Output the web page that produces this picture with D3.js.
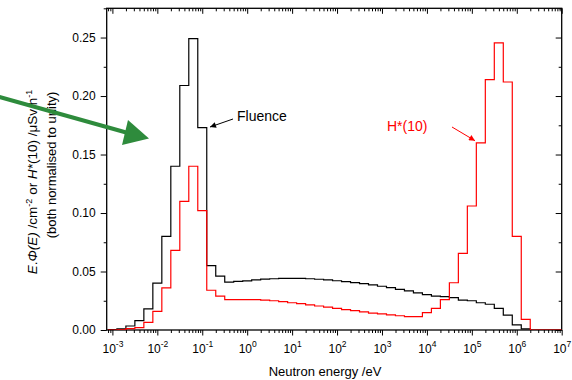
<!DOCTYPE html>
<html>
<head>
<meta charset="utf-8">
<script src="https://cdn.jsdelivr.net/npm/d3@7"></script>
<style>
body { margin: 0; background: #fff; }
svg { font-family: "Liberation Sans", Arial, sans-serif; }
</style>
</head>
<body>
<div id="plot"></div>
<script>
// bin edges as log10(E / eV), 5 bins per decade
let binEdges = [-3.1, -2.9, -2.7, -2.5, -2.3, -2.1, -1.9, -1.7, -1.5, -1.3,
  -1.1, -0.9, -0.7, -0.5, -0.3, -0.1, 0.1, 0.3, 0.5, 0.7,
  0.9, 1.1, 1.3, 1.5, 1.7, 1.9, 2.1, 2.3, 2.5, 2.7,
  2.9, 3.1, 3.3, 3.5, 3.7, 3.9, 4.1, 4.3, 4.5, 4.7,
  4.9, 5.1, 5.3, 5.5, 5.7, 5.9, 6.1, 6.3, 6.5, 6.7,
  6.9, 7.1];

let fluence = [0.0003, 0.0009, 0.0034, 0.008, 0.018, 0.040, 0.080, 0.140, 0.209, 0.249,
  0.173, 0.055, 0.046, 0.041, 0.0415, 0.042, 0.0428, 0.0435, 0.0438, 0.0442,
  0.0442, 0.0441, 0.0438, 0.0434, 0.0428, 0.0421, 0.0414, 0.0405, 0.0396, 0.0385,
  0.0374, 0.0362, 0.0348, 0.0334, 0.0318, 0.0302, 0.0290, 0.0285, 0.0276, 0.0256,
  0.025, 0.0233, 0.022, 0.0185, 0.0128, 0.0043, 0.001, 0, 0, 0,
  0];

let hstar = [0, 0.0002, 0.0011, 0.002, 0.0066, 0.016, 0.036, 0.068, 0.110, 0.140,
  0.102, 0.034, 0.029, 0.026, 0.026, 0.026, 0.026, 0.0255, 0.025, 0.0243,
  0.0233, 0.0225, 0.0215, 0.0205, 0.0195, 0.0185, 0.0175, 0.0165, 0.0155, 0.0145,
  0.0137, 0.013, 0.0122, 0.0114, 0.0114, 0.0148, 0.0185, 0.026, 0.0404, 0.0655,
  0.106, 0.160, 0.214, 0.2455, 0.212, 0.080, 0.0091, 0, 0, 0,
  0];

let decades = [-3, -2, -1, 0, 1, 2, 3, 4, 5, 6, 7];
let yTicks = [0, 0.05, 0.10, 0.15, 0.20, 0.25];
let yMinor = [0.025, 0.075, 0.125, 0.175, 0.225, 0.275];

let svgWidth = 572, svgHeight = 380;
let margin = { top: 8.3, right: 10.3, bottom: 50, left: 106.7 };
let width = svgWidth - margin.left - margin.right;
let height = svgHeight - margin.top - margin.bottom;

let x = d3.scaleLog().domain([Math.pow(10, -3.127), 1e7]).range([0, width]);
let y = d3.scaleLinear().domain([0, 0.275]).range([height, 0]);

let xMinor = [];
for (let d = -4; d < 7; d++) {
  for (let m = 2; m <= 9; m++) {
    let v = m * Math.pow(10, d);
    if (v >= x.domain()[0] && v <= 1e7) xMinor.push(v);
  }
}
let xMajor = decades.map(d => Math.pow(10, d));

let svg = d3.select('#plot').append('svg')
  .attr('width', svgWidth).attr('height', svgHeight);
let chart = svg.append('g')
  .attr('transform', `translate(${margin.left},${margin.top})`);

chart.append('clipPath').attr('id', 'clip')
  .append('rect').attr('width', width).attr('height', height);

function styleAxis(g) {
  g.selectAll('.domain').remove();
  g.selectAll('line').attr('stroke', '#000').attr('stroke-width', 1);
}

// bottom axis
chart.append('g').attr('transform', `translate(0,${height})`)
  .call(d3.axisBottom(x).tickValues(xMinor).tickSize(3).tickFormat(''))
  .call(styleAxis);
let bx = chart.append('g').attr('transform', `translate(0,${height})`)
  .call(d3.axisBottom(x).tickValues(xMajor).tickSize(5.5).tickFormat(''))
  .call(styleAxis);
bx.selectAll('.tick').append('text')
  .attr('y', 23).attr('fill', '#000').attr('text-anchor', 'middle')
  .style('font-size', '12px')
  .each(function (d) {
    let t = d3.select(this);
    let e = Math.round(Math.log10(d));
    t.append('tspan').text('10');
    t.append('tspan').attr('dy', -6).style('font-size', '8.5px').text(String(e));
  });

// top axis (inward)
chart.append('g')
  .call(d3.axisTop(x).tickValues(xMinor).tickSize(-3).tickFormat(''))
  .call(styleAxis);
chart.append('g')
  .call(d3.axisTop(x).tickValues(xMajor).tickSize(-5.5).tickFormat(''))
  .call(styleAxis);

// left axis
chart.append('g')
  .call(d3.axisLeft(y).tickValues(yMinor).tickSize(3).tickFormat(''))
  .call(styleAxis);
chart.append('g')
  .call(d3.axisLeft(y).tickValues(yTicks).tickSize(6).tickPadding(5).tickFormat(d3.format('.2f')))
  .call(styleAxis)
  .call(g => g.selectAll('text').style('font-size', '12px').attr('fill', '#000')
    .attr('font-family', '"Liberation Sans", Arial, sans-serif'));

// right axis (inward)
chart.append('g').attr('transform', `translate(${width},0)`)
  .call(d3.axisRight(y).tickValues(yMinor).tickSize(-3).tickFormat(''))
  .call(styleAxis);
chart.append('g').attr('transform', `translate(${width},0)`)
  .call(d3.axisRight(y).tickValues(yTicks).tickSize(-6).tickFormat(''))
  .call(styleAxis);

// frame
chart.append('rect').attr('width', width).attr('height', height)
  .attr('fill', 'none').attr('stroke', '#000').attr('stroke-width', 1.3);

// step histograms
function stepPoints(vals) {
  let pts = vals.map((v, i) => [binEdges[i], v]);
  pts.push([binEdges[vals.length], vals[vals.length - 1]]);
  return pts;
}
let line = d3.line()
  .x(d => x(Math.pow(10, d[0])))
  .y(d => y(d[1]))
  .curve(d3.curveStepAfter);

let plotArea = chart.append('g').attr('clip-path', 'url(#clip)');
plotArea.append('path').datum(stepPoints(fluence))
  .attr('d', line).attr('fill', 'none').attr('stroke', '#000').attr('stroke-width', 1.2);
plotArea.append('path').datum(stepPoints(hstar))
  .attr('d', line).attr('fill', 'none').attr('stroke', '#ff0000').attr('stroke-width', 1.2);

// axis titles
svg.append('text').attr('x', 325).attr('y', 376).attr('text-anchor', 'middle')
  .style('font-size', '13px').text('Neutron energy /eV');

let yl = svg.append('text').attr('transform', 'translate(37,182) rotate(-90)')
  .attr('text-anchor', 'middle').style('font-size', '13.5px');
yl.append('tspan').style('font-style', 'italic').text('E');
yl.append('tspan').text('.');
yl.append('tspan').style('font-style', 'italic').text('\u03A6(E)');
yl.append('tspan').text(' /cm');
yl.append('tspan').attr('dy', -5.5).style('font-size', '9px').text('-2');
yl.append('tspan').attr('dy', 5.5).text(' or ');
yl.append('tspan').style('font-style', 'italic').text('H*');
yl.append('tspan').text('(10) /\u03BCSv h');
yl.append('tspan').attr('dy', -5.5).style('font-size', '9px').text('-1');

svg.append('text').attr('transform', 'translate(56,165) rotate(-90)')
  .attr('text-anchor', 'middle').style('font-size', '13px')
  .text('(both normalised to unity)');

// annotations
let defs = svg.append('defs');
function head(id, color, w, h) {
  defs.append('marker').attr('id', id).attr('viewBox', '0 0 10 10')
    .attr('refX', 10).attr('refY', 5).attr('markerUnits', 'userSpaceOnUse')
    .attr('markerWidth', w).attr('markerHeight', h).attr('orient', 'auto')
    .append('path').attr('d', 'M0,0 L10,5 L0,10 z').attr('fill', color);
}
head('hBlack', '#000', 8, 6);
head('hRed', '#ff0000', 8, 6);

svg.append('line').attr('x1', 233).attr('y1', 119).attr('x2', 210).attr('y2', 127)
  .attr('stroke', '#000').attr('stroke-width', 1).attr('marker-end', 'url(#hBlack)');
svg.append('text').attr('x', 237).attr('y', 121).style('font-size', '14px').text('Fluence');

svg.append('line').attr('x1', 452).attr('y1', 127).attr('x2', 475).attr('y2', 140.7)
  .attr('stroke', '#ff0000').attr('stroke-width', 1).attr('marker-end', 'url(#hRed)');
svg.append('text').attr('x', 387).attr('y', 131).attr('fill', '#ff0000')
  .style('font-size', '14px').text('H*(10)');

// big green arrow
svg.append('line').attr('x1', -2).attr('y1', 96.5).attr('x2', 128).attr('y2', 133)
  .attr('stroke', '#2e8b3c').attr('stroke-width', 4);
svg.append('path').attr('d', 'M149,138.5 L128,120 L122,145 Z').attr('fill', '#2e8b3c');
</script>
</body>
</html>
